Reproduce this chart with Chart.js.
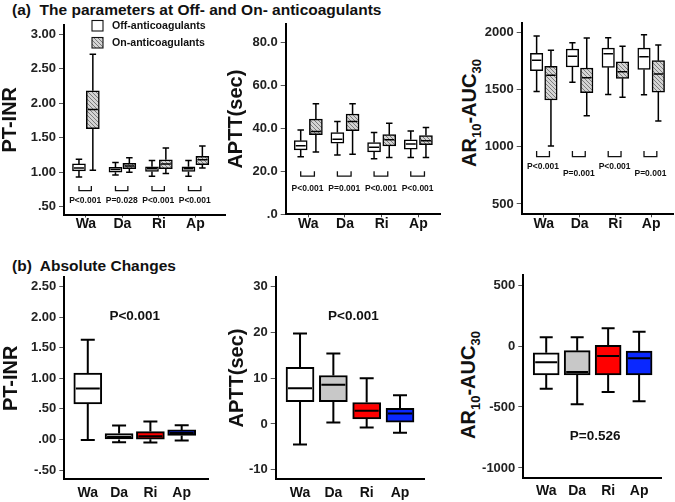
<!DOCTYPE html>
<html><head><meta charset="utf-8">
<script src="https://cdn.jsdelivr.net/npm/chart.js@4.4.0/dist/chart.umd.min.js"></script>
<style>
body{margin:0;background:#fff;width:675px;height:502px;overflow:hidden;position:relative;font-family:"Liberation Sans",Arial,sans-serif;}
canvas{position:absolute;}
.ttl{position:absolute;font-weight:bold;font-size:15.5px;line-height:15px;color:#111;white-space:nowrap;}
.ytl{position:absolute;font-weight:bold;font-size:20px;line-height:20px;color:#111;white-space:nowrap;transform:translate(-50%,-50%) rotate(-90deg);}
.ytl sub{font-size:13px;vertical-align:-5px;line-height:0;}
</style></head><body>
<div class="ttl" style="left:12px;top:2px">(a)&nbsp; The parameters at Off- and On- anticoagulants</div>
<div class="ttl" style="left:12px;top:258px">(b)&nbsp; Absolute Changes</div>
<div class="ytl" style="left:468.5px;top:113px">AR<sub>10</sub>-AUC<sub>30</sub></div>
<div class="ytl" style="left:468px;top:385px">AR<sub>10</sub>-AUC<sub>30</sub></div>
<script>
// ---------------- data ----------------
const groups = ['Wa', 'Da', 'Ri', 'Ap'];
const seriesNames = ['Off-anticoagulants', 'On-anticoagulants'];
// five-number summaries per drug: [lower whisker, Q1, median, Q3, upper whisker]
const inrOff = [[0.93,1.02,1.06,1.12,1.19],[0.96,1.00,1.04,1.07,1.14],[0.94,1.01,1.05,1.08,1.17],[0.94,1.01,1.05,1.08,1.17]];
const inrOn  = [[1.03,1.63,1.91,2.18,2.71],[1.00,1.05,1.09,1.13,1.21],[0.98,1.05,1.12,1.18,1.35],[1.06,1.11,1.18,1.23,1.38]];
const apttOff = [[26.7,29.9,31.9,34.2,39.2],[27.5,33.0,34.9,38.0,43.1],[25.8,29.0,31.2,33.3,38.0],[26.4,30.3,32.7,34.6,38.7]];
const apttOn  = [[28.9,37.0,38.5,44.2,51.3],[27.9,38.9,43.1,46.6,51.3],[26.4,31.8,34.6,37.0,42.3],[26.4,32.3,34.2,36.6,40.3]];
const arOff = [[1482,1663,1753,1814,1965],[1561,1695,1788,1852,1907],[1456,1692,1811,1860,1951],[1453,1674,1785,1860,1977]];
const arOn  = [[1005,1407,1622,1701,1840],[1270,1471,1601,1686,1948],[1430,1596,1654,1741,1875],[1223,1476,1634,1750,1887]];
const inrChange  = [[-0.01,0.58,0.835,1.085,1.63],[-0.044,0.0,0.043,0.098,0.23],[-0.05,0.005,0.054,0.13,0.295],[-0.016,0.065,0.108,0.157,0.234]];
const apttChange = [[-4.5,4.9,7.8,12.4,19.8],[0.3,4.9,8.6,10.6,15.4],[-0.8,1.1,2.9,4.7,10.0],[-1.9,0.4,2.3,3.4,6.3]];
const arChange   = [[-350,-238,-134,-55,71],[-478,-238,-213,-38,71],[-377,-238,-82,6,145],[-453,-238,-101,-41,117]];
const pInr  = ['P<0.001','P=0.028','P<0.001','P<0.001'];
const pAptt = ['P<0.001','P=0.001','P<0.001','P<0.001'];
const pAr   = ['P<0.001','P=0.001','P<0.001','P=0.001'];
const pChange = ['P<0.001','P<0.001','P=0.526'];
const inrTicks = [0.5,1,1.5,2,2.5,3];
const inrTickLabels = ['.50','1.00','1.50','2.00','2.50','3.00'];
const apttTicks = [0,20,40,60,80];
const apttTickLabels = ['.0','20.0','40.0','60.0','80.0'];
const arTicks = [500,1000,1500,2000];
const arTickLabels = ['500','1000','1500','2000'];
const inrChTicks = [-0.5,0,0.5,1,1.5,2,2.5];
const inrChTickLabels = ['-.50','.00','.50','1.00','1.50','2.00','2.50'];
const apttChTicks = [-10,0,10,20,30];
const apttChTickLabels = ['-10','0','10','20','30'];
const arChTicks = [-1000,-500,0,500];
const arChTickLabels = ['-1000','-500','0','500'];

// ---------------- styling helpers ----------------
const FONT = '"Liberation Sans", Arial, sans-serif';
Chart.defaults.font.family = FONT;
Chart.defaults.color = '#111';

function makeHatch() {
  const c = document.createElement('canvas'); c.width = 4; c.height = 4;
  const g = c.getContext('2d');
  g.fillStyle = '#d4d4d4'; g.fillRect(0, 0, 4, 4);
  g.fillStyle = '#7c7c7c';
  for (let i = 0; i < 4; i++) g.fillRect(i, i, 1, 1);
  return g.createPattern(c, 'repeat');
}
const HATCH = makeHatch();
const changeColors = ['#ffffff', '#c8c8c8', '#ff0000', '#0a28ff'];

function boxSet(label, stats, shift, fill, thick, lw) {
  return {
    label, stats, lw,
    data: stats.map((s, i) => ({ x: i + shift, y: [s[1], s[3]] })),
    backgroundColor: fill, borderColor: '#000', borderWidth: lw,
    borderSkipped: false, grouped: false, barThickness: thick
  };
}

const boxPlugin = {
  id: 'boxWhiskers',
  afterDatasetsDraw(chart) {
    const ctx = chart.ctx, ys = chart.scales.y;
    const py = v => ys.getPixelForValue(v);
    chart.data.datasets.forEach((ds, di) => {
      const meta = chart.getDatasetMeta(di);
      meta.data.forEach((el, i) => {
        const s = ds.stats[i], cx = el.x, w = el.width, lw = ds.lw;
        ctx.save();
        ctx.strokeStyle = '#000'; ctx.lineWidth = lw; ctx.lineCap = 'butt';
        ctx.beginPath();
        ctx.moveTo(cx, py(s[3])); ctx.lineTo(cx, py(s[4]));
        ctx.moveTo(cx, py(s[1])); ctx.lineTo(cx, py(s[0]));
        ctx.moveTo(cx - w / 4, py(s[4])); ctx.lineTo(cx + w / 4, py(s[4]));
        ctx.moveTo(cx - w / 4, py(s[0])); ctx.lineTo(cx + w / 4, py(s[0]));
        ctx.moveTo(cx - w / 2 + lw, py(s[2])); ctx.lineTo(cx + w / 2 - lw, py(s[2]));
        ctx.stroke();
        ctx.restore();
      });
    });
  }
};

function offOnNotes(pvals, brTop, brBot, textY, shift, withLegend) {
  return function (chart) {
    const ctx = chart.ctx, x = chart.scales.x, y = chart.scales.y;
    ctx.save();
    ctx.strokeStyle = '#111'; ctx.lineWidth = 1.3; ctx.fillStyle = '#111';
    ctx.font = 'bold 8.5px ' + FONT; ctx.textAlign = 'center'; ctx.textBaseline = 'middle';
    pvals.forEach((t, i) => {
      const xl = x.getPixelForValue(i - shift), xr = x.getPixelForValue(i + shift) - 1.5;
      const y1 = y.getPixelForValue(brTop), y2 = y.getPixelForValue(brBot);
      ctx.beginPath(); ctx.moveTo(xl, y1); ctx.lineTo(xl, y2); ctx.lineTo(xr, y2); ctx.lineTo(xr, y1); ctx.stroke();
      ctx.fillText(t, (xl + xr) / 2, y.getPixelForValue(textY[i % textY.length]));
    });
    if (withLegend) {
      const a = chart.chartArea;
      const fills = ['#ffffff', HATCH];
      ctx.font = 'bold 10.6px ' + FONT; ctx.textAlign = 'left';
      seriesNames.forEach((n, k) => {
        const sx = a.left + 28, sy = a.top - 4.5 + k * 17;
        ctx.fillStyle = fills[k]; ctx.fillRect(sx, sy, 11, 10.5);
        ctx.lineWidth = 1.1; ctx.strokeStyle = '#111'; ctx.strokeRect(sx, sy, 11, 10.5);
        ctx.fillStyle = '#111'; ctx.fillText(n, sx + 20, sy + 5.5);
      });
    }
    ctx.restore();
  };
}

function changeNote(text, xPos, yVal) {
  return function (chart) {
    const ctx = chart.ctx;
    ctx.save();
    ctx.fillStyle = '#111'; ctx.font = 'bold 13.5px ' + FONT;
    ctx.textAlign = 'center'; ctx.textBaseline = 'middle';
    ctx.fillText(text, chart.scales.x.getPixelForValue(xPos), chart.scales.y.getPixelForValue(yVal));
    ctx.restore();
  };
}

function panel(p) {
  const cv = document.createElement('canvas');
  const w = Math.ceil(p.right) + 2 - p.cLeft, h = p.cH;
  cv.width = w; cv.height = h;
  cv.style.left = p.cLeft + 'px'; cv.style.top = p.cTop + 'px';
  cv.style.width = w + 'px'; cv.style.height = h + 'px';
  document.body.appendChild(cv);
  const yW = p.axisLeft - p.cLeft, xH = p.cTop + h - p.bottom;
  new Chart(cv, {
    type: 'bar',
    data: { datasets: p.datasets },
    options: {
      responsive: false, animation: false, events: [],
      layout: { padding: { left: 0, top: p.top - p.cTop, right: p.cLeft + w - p.right, bottom: 0 } },
      plugins: { legend: { display: false }, tooltip: { enabled: false } },
      scales: {
        x: {
          type: 'linear', min: p.xMin, max: p.xMax, offset: false,
          afterBuildTicks: s => { s.ticks = groups.map((g, i) => ({ value: i })); },
          afterFit: s => { s.height = xH; },
          ticks: { callback: (v, i) => groups[i], font: { size: 14, weight: 'bold' }, color: '#111',
                   padding: p.xPad, autoSkip: false, maxRotation: 0 },
          grid: { display: true, drawOnChartArea: false, drawTicks: p.xTicks, tickLength: 3, color: '#444', offset: false },
          border: { display: true, color: '#000', width: 2 }
        },
        y: {
          type: 'linear', min: p.yMin, max: p.yMax,
          afterBuildTicks: s => { s.ticks = p.ticks.map(v => ({ value: v })); },
          afterFit: s => { s.width = yW; },
          ticks: { callback: (v, i) => p.tickLabels[i], font: { size: 13, weight: 'bold' }, color: '#222',
                   padding: 3, autoSkip: false },
          grid: { display: true, drawOnChartArea: false, drawTicks: true, tickLength: 5, color: '#555' },
          border: { display: true, color: '#000', width: 2 },
          title: p.yTitle ? { display: true, text: p.yTitle, font: { size: 20, weight: 'bold', lineHeight: 1 },
                              color: '#111', padding: 0 } : { display: false }
        }
      }
    },
    plugins: [boxPlugin, { id: 'notes', afterDraw: p.notes }]
  });
}

// ---------------- panels ----------------
const A = { cTop: 12, cH: 230, xPad: -2, xTicks: true };
const B = { cTop: 262, cH: 240, xPad: 5, xTicks: false };

panel(Object.assign({}, A, {
  cLeft: 0, axisLeft: 64, top: 25, right: 225, bottom: 214.5,
  xMin: -0.6, xMax: 3.81, yMin: 0.387, yMax: 3.135,
  ticks: inrTicks, tickLabels: inrTickLabels, yTitle: 'PT-INR',
  datasets: [boxSet(seriesNames[0], inrOff, -0.19, '#ffffff', 13, 1.5), boxSet(seriesNames[1], inrOn, 0.19, HATCH, 13, 1.5)],
  notes: offOnNotes(pInr, 0.80, 0.733, [0.59], 0.19, true)
}));
panel(Object.assign({}, A, {
  cLeft: 226, axisLeft: 285.7, top: 24, right: 440, bottom: 214.3,
  xMin: -0.616, xMax: 3.59, yMin: 0, yMax: 88.4,
  ticks: apttTicks, tickLabels: apttTickLabels, yTitle: 'APTT(sec)',
  datasets: [boxSet(seriesNames[0], apttOff, -0.207, '#ffffff', 13, 1.5), boxSet(seriesNames[1], apttOn, 0.207, HATCH, 13, 1.5)],
  notes: offOnNotes(pAptt, 20, 17.7, [11.7], 0.207, false)
}));
panel(Object.assign({}, A, {
  cLeft: 474, axisLeft: 521.7, top: 23.3, right: 673, bottom: 214.3,
  xMin: -0.617, xMax: 3.61, yMin: 410, yMax: 2076,
  ticks: arTicks, tickLabels: arTickLabels, yTitle: null,
  datasets: [boxSet(seriesNames[0], arOff, -0.2, '#ffffff', 12.5, 1.5), boxSet(seriesNames[1], arOn, 0.2, HATCH, 12.5, 1.5)],
  notes: offOnNotes(pAr, 962, 913, [825, 761], 0.2, false)
}));
panel(Object.assign({}, B, {
  cLeft: 1, axisLeft: 64.3, top: 277.3, right: 208.3, bottom: 479.3,
  xMin: -0.75, xMax: 3.85, yMin: -0.65, yMax: 2.65,
  ticks: inrChTicks, tickLabels: inrChTickLabels, yTitle: 'PT-INR',
  datasets: [boxSet('Change', inrChange, 0, changeColors, 28, 2)],
  notes: changeNote(pChange[0], 1.5, 2.02)
}));
panel(Object.assign({}, B, {
  cLeft: 227, axisLeft: 275.7, top: 276.7, right: 424, bottom: 479.3,
  xMin: -0.73, xMax: 3.72, yMin: -12.1, yMax: 32.2,
  ticks: apttChTicks, tickLabels: apttChTickLabels, yTitle: 'APTT(sec)',
  datasets: [boxSet('Change', apttChange, 0, changeColors, 28, 2)],
  notes: changeNote(pChange[1], 1.6, 23.6)
}));
panel(Object.assign({}, B, {
  cLeft: 474, axisLeft: 523.3, top: 275, right: 661.7, bottom: 478,
  xMin: -0.74, xMax: 3.73, yMin: -1082, yMax: 582,
  ticks: arChTicks, tickLabels: arChTickLabels, yTitle: null,
  datasets: [boxSet('Change', arChange, 0, changeColors, 26, 2)],
  notes: changeNote(pChange[2], 1.58, -743)
}));
</script>
</body></html>
